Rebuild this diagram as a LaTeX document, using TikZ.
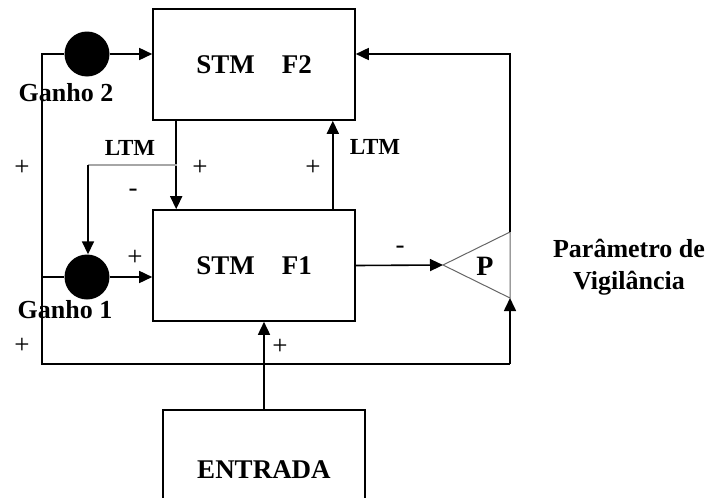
\documentclass[tikz,border=0pt]{standalone}
\usepackage{fontspec}
\setmainfont{Liberation Serif}
\usetikzlibrary{arrows.meta}

\begin{document}
\begin{tikzpicture}[x=1pt,y=-1pt,
  box/.style={draw,line width=1.6pt,minimum width=202pt,minimum height=111pt,inner sep=0pt,font=\fontsize{27}{30}\selectfont\bfseries},
  gain/.style={circle,fill=black,minimum size=45pt,inner sep=0pt},
  arr/.style={line width=1.6pt,-{Triangle[length=13pt,width=12pt]}},
  wire/.style={line width=1.6pt},
  lbl/.style={font=\fontsize{26}{30}\selectfont\bfseries},
  sgn/.style={font=\fontsize{27}{28}\selectfont}]
\useasboundingbox (0,0) rectangle (721,498);

% Boxes
\node[box] (F2) at (254,64.5) {STM\hspace{1em}F2};
\node[box] (F1) at (254,265.5) {STM\hspace{1em}F1};
\node[box,minimum height=120pt] (E) at (264,470) {ENTRADA};

% Gains
\node[gain] (G2) at (87,54) {};
\node[gain] (G1) at (87,277) {};
\node[lbl] (g2) at (66,93) {Ganho 2};
\node[lbl] (g1) at (65,310) {Ganho 1};

% Vigilance triangle
\coordinate (tA) at (443,265);
\coordinate (tT) at (510,232);
\coordinate (tB) at (510,298);
\draw[gray!80!black,line width=1pt] (tT) -- (tA) -- (tB) -- cycle;
\node[lbl,font=\fontsize{28}{30}\selectfont\bfseries] (P) at (485,266) {P};
\node[lbl,align=center] (vig) at (629,267) {Parâmetro de\\[2pt]Vigilância};

% Corners
\coordinate (L2) at (42,54);
\coordinate (Lb) at (42,364);
\coordinate (Rb) at (510,364);
\coordinate (L1) at (42,277);
\coordinate (br) at (177,165);
\coordinate (bc) at (88,165);

% Connectors
\draw[wire] (G2.west) -- (L2) -- (Lb) -- (Rb);
\draw[arr] (Rb) -- (tB);
\draw[wire] (L1) -- (G1.west);
\draw[arr] (G2.east) -- (G2 -| F2.west);
\draw[arr] (G1.east) -- (G1 -| F1.west);
\draw[arr] ([xshift=24pt]F2.south west) -- ([xshift=24pt]F1.north west);
\draw[wire,gray!70] (br) -- (bc);
\draw[arr] (bc) -- (bc |- G1.north);
\draw[arr] ([xshift=-23pt]F1.north east) -- ([xshift=-23pt]F2.south east);
\draw[arr] (tT) |- (G2 -| F2.east);
\draw[arr] (F1.east) -- (tA);
\draw[arr] (E.north) -- (E.north |- F1.south);

% Labels
\node[lbl,font=\fontsize{23}{26}\selectfont\bfseries] (ltm1) at (130,148) {LTM};
\node[lbl,font=\fontsize{23}{26}\selectfont\bfseries] (ltm2) at (375,147) {LTM};
\node[sgn] at (22,168) {+};
\node[sgn] at (200,168) {+};
\node[sgn] at (133,193) {-};
\node[sgn] at (313,168) {+};
\node[sgn] at (135,258) {+};
\node[sgn] at (22,346) {+};
\node[sgn] at (280,347) {+};
\node[sgn] at (400,250) {-};
\end{tikzpicture}
\end{document}
